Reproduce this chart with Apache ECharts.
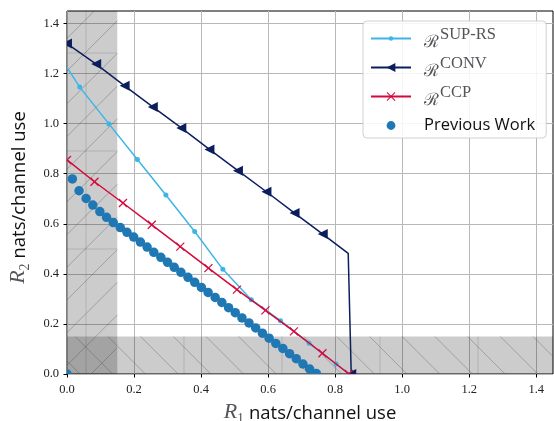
<!DOCTYPE html>
<html>
<head>
<meta charset="utf-8">
<script src="https://cdn.jsdelivr.net/npm/echarts@6/dist/echarts.min.js"></script>
<style>
  html, body { margin: 0; padding: 0; background: #fff; }
  #chart { width: 554px; height: 421px; }
</style>
</head>
<body>
<div id="chart"></div>
<script>
// ---- data ----
const tickValues = [0, 0.2, 0.4, 0.6, 0.8, 1.0, 1.2, 1.4];
const regionEdge = 0.15;   // shaded strips R1 < 0.15 and R2 < 0.15

const supX = [0, 0.038, 0.125, 0.21, 0.295, 0.381, 0.465, 0.55, 0.637, 0.722, 0.803, 0.843];
const supY = [1.225, 1.146, 0.999, 0.857, 0.715, 0.569, 0.418, 0.297, 0.213, 0.123, 0.040, 0];
const supMark = [0, 1, 1, 1, 1, 1, 1, 1, 1, 1, 1, 0];

const convX = [0, 0.087, 0.172, 0.256, 0.341, 0.425, 0.51, 0.595, 0.679, 0.763, 0.839, 0.848];
const convY = [1.32, 1.238, 1.151, 1.067, 0.983, 0.897, 0.812, 0.728, 0.643, 0.559, 0.482, 0];
const convMark = [1, 1, 1, 1, 1, 1, 1, 1, 1, 1, 0, 1];

const ccpX = [0, 0.082, 0.167, 0.253, 0.338, 0.422, 0.507, 0.592, 0.677, 0.762, 0.841];
const ccpY = [0.855, 0.768, 0.683, 0.596, 0.509, 0.423, 0.337, 0.254, 0.170, 0.083, 0];
const ccpMark = [1, 1, 1, 1, 1, 1, 1, 1, 1, 1, 1];

const prevX = [0, 0.016, 0.036, 0.057, 0.077, 0.098, 0.118, 0.138, 0.159, 0.179, 0.199,
  0.219, 0.239, 0.259, 0.280, 0.300, 0.320, 0.340, 0.361, 0.381, 0.401,
  0.421, 0.442, 0.462, 0.482, 0.502, 0.522, 0.543, 0.563, 0.583, 0.603,
  0.623, 0.644, 0.664, 0.684, 0.704, 0.724, 0.744];
const prevY = [0, 0.779, 0.732, 0.701, 0.675, 0.649, 0.626, 0.605, 0.585, 0.566, 0.547,
  0.527, 0.507, 0.486, 0.466, 0.446, 0.426, 0.406, 0.386, 0.366, 0.346,
  0.326, 0.306, 0.286, 0.265, 0.245, 0.224, 0.204, 0.184, 0.163, 0.143,
  0.122, 0.102, 0.081, 0.061, 0.040, 0.020, 0.002];

// ---- styling ----
const AX_MAX = 1.45;
const C_SUP = '#3db5e6', C_CONV = '#0b1f5e', C_CCP = '#d4093c', C_PREV = '#1f77b4';
// legend symbols, padded with zero-area corners so they keep a fixed box
const dotSmall = 'path://M0,0L0,0.01Z M10,10L10,9.99Z M5,2.5A2.5,2.5 0 1 1 5,7.5A2.5,2.5 0 1 1 5,2.5Z';
const dotBig = 'path://M0,0L0,0.01Z M10,10L10,9.99Z M5,1A4,4 0 1 1 5,9A4,4 0 1 1 5,1Z';
const xMark = 'path://M0.8,0L5,4.2L9.2,0L10,0.8L5.8,5L10,9.2L9.2,10L5,5.8L0.8,10L0,9.2L4.2,5L0,0.8Z';

function pairs(xs, ys, marks) {
  const out = [];
  xs.forEach(function (x, i) { if (!marks || marks[i]) out.push([x, ys[i]]); });
  return out;
}

// marker drawers for the clipped marker series
function markerRenderer(kind, color, size) {
  return function (params, api) {
    const p = api.coord([api.value(0), api.value(1)]);
    const h = size / 2;
    if (kind === 'dot') {
      return { type: 'circle', shape: { cx: p[0], cy: p[1], r: h }, style: { fill: color } };
    }
    if (kind === 'tri') {
      return { type: 'polygon', shape: { points: [[p[0] - h, p[1]], [p[0] + h, p[1] - h], [p[0] + h, p[1] + h]] }, style: { fill: color } };
    }
    return {
      type: 'group', children: [
        { type: 'line', shape: { x1: p[0] - h, y1: p[1] - h, x2: p[0] + h, y2: p[1] + h }, style: { stroke: color, lineWidth: 1.2 } },
        { type: 'line', shape: { x1: p[0] - h, y1: p[1] + h, x2: p[0] + h, y2: p[1] - h }, style: { stroke: color, lineWidth: 1.2 } }
      ]
    };
  };
}

function hatch(x0, y0, x1, y1, dir, phase, step, out) {
  const stroke = 'rgba(60,60,60,0.38)';
  if (dir === '/') {
    let c = phase + Math.ceil((x0 + y0 - phase) / step) * step;
    for (; c <= x1 + y1; c += step) {
      const xa = Math.max(x0, c - y1), xb = Math.min(x1, c - y0);
      if (xa < xb) out.push({ type: 'line', shape: { x1: xa, y1: c - xa, x2: xb, y2: c - xb }, style: { stroke: stroke, lineWidth: 0.8 } });
    }
  } else {
    let c = phase + Math.ceil((x0 - y1 - phase) / step) * step;
    for (; c <= x1 - y0; c += step) {
      const xa = Math.max(x0, c + y0), xb = Math.min(x1, c + y1);
      if (xa < xb) out.push({ type: 'line', shape: { x1: xa, y1: xa - c, x2: xb, y2: xb - c }, style: { stroke: stroke, lineWidth: 0.8 } });
    }
  }
}

function renderShade(params, api) {
  const o = api.coord([0, 0]);
  const tr = api.coord([AX_MAX, AX_MAX]);
  const e = api.coord([api.value(0), api.value(1)]);
  const fill = 'rgba(0,0,0,0.2)';
  const seam = 'rgba(0,0,0,0.13)';
  const kids = [
    { type: 'rect', shape: { x: o[0], y: tr[1], width: e[0] - o[0], height: o[1] - tr[1] }, style: { fill: fill } },
    { type: 'rect', shape: { x: o[0], y: e[1], width: tr[0] - o[0], height: o[1] - e[1] }, style: { fill: fill } }
  ];
  // tile seams of the hatch pattern
  for (let x = o[0] + 19; x < tr[0]; x += 98) {
    kids.push({ type: 'line', shape: { x1: x, y1: e[1], x2: x, y2: o[1] }, style: { stroke: seam, lineWidth: 1 } });
  }
  kids.push({ type: 'line', shape: { x1: o[0] + 19, y1: tr[1], x2: o[0] + 19, y2: e[1] }, style: { stroke: seam, lineWidth: 1 } });
  for (let y = o[1] - 125; y > tr[1]; y -= 98) {
    kids.push({ type: 'line', shape: { x1: o[0], y1: y, x2: e[0], y2: y }, style: { stroke: seam, lineWidth: 1 } });
  }
  hatch(o[0], tr[1], e[0], o[1], '/', 105.3, 32.7, kids);
  hatch(o[0], e[1], tr[0], o[1], '\\', 33, 32.7, kids);
  return { type: 'group', children: kids };
}

const legendNames = {
  'SUP-RS': '{r|ℛ}{sup|SUP-RS}',
  'CONV': '{r|ℛ}{sup|CONV}',
  'CCP': '{r|ℛ}{sup|CCP}',
  'Previous Work': '{t|Previous Work}{sup| }'
};

function nameRich() {
  return {
    i: { fontFamily: 'Liberation Serif', fontStyle: 'italic', fontSize: 22, padding: [0, 0, 3, 0], verticalAlign: 'bottom' },
    s: { fontFamily: 'Liberation Serif', fontSize: 14, verticalAlign: 'bottom' },
    t: { fontFamily: 'Open Sans', fontSize: 18.5, color: '#111', padding: [0, 0, 3, 0], verticalAlign: 'bottom' }
  };
}

const chart = echarts.init(document.getElementById('chart'), null, { renderer: 'canvas' });
const option = {
  animation: false,
  backgroundColor: '#fff',
  grid: {
    left: 67, right: 1, top: 11, bottom: 47,
    containLabel: false, outerBoundsMode: 'none',
    show: true, borderColor: '#000', borderWidth: 1, backgroundColor: 'transparent'
  },
  legend: {
    orient: 'vertical',
    left: 363, top: 21,
    padding: [5, 6, 4, 7],
    itemWidth: 40, itemHeight: 11, itemGap: 4,
    backgroundColor: 'rgba(255,255,255,0.85)',
    borderColor: '#d0d0d0', borderWidth: 1, borderRadius: 4,
    data: ['SUP-RS', 'CONV', 'CCP', { name: 'Previous Work', icon: dotBig }],
    formatter: function (n) { return legendNames[n]; },
    textStyle: {
      rich: {
        r: { fontFamily: 'DejaVu Serif', fontSize: 17, padding: [0, 0, 0, 8], verticalAlign: 'bottom', lineHeight: 22 },
        sup: { fontFamily: 'Liberation Serif', fontSize: 16.5, padding: [0, 0, 8, 1], verticalAlign: 'bottom' },
        t: { fontFamily: 'Open Sans', fontSize: 16.5, color: '#111', padding: [0, 0, 0, 8], verticalAlign: 'middle' }
      }
    }
  },
  xAxis: {
    type: 'value', min: 0, max: AX_MAX,
    name: '{i|R}{s|1}{t| nats/channel use}',
    nameLocation: 'middle', nameGap: 26,
    nameTextStyle: { rich: nameRich() },
    axisLine: { show: false },
    axisTick: { show: true, inside: false, length: 3.5, lineStyle: { color: '#000' }, customValues: tickValues },
    axisLabel: { customValues: tickValues, formatter: function (v) { return v.toFixed(1); }, fontFamily: 'Liberation Serif', fontSize: 12.5, color: '#222', margin: 9 },
    splitLine: { show: true, lineStyle: { color: '#b8b8b8', width: 1 } }
  },
  yAxis: {
    type: 'value', min: 0, max: AX_MAX,
    name: '{i|R}{s|2}{t| nats/channel use}',
    nameLocation: 'middle', nameGap: 29, nameRotate: 90,
    nameTextStyle: { rich: nameRich(), padding: [0, 10, 0, 0] },
    axisLine: { show: false },
    axisTick: { show: true, inside: false, length: 3.5, lineStyle: { color: '#000' }, customValues: tickValues },
    axisLabel: { customValues: tickValues, formatter: function (v) { return v.toFixed(1); }, fontFamily: 'Liberation Serif', fontSize: 12.5, color: '#222', margin: 8 },
    splitLine: { show: true, lineStyle: { color: '#b8b8b8', width: 1 } }
  },
  series: [
    {
      type: 'custom', name: 'shade', z: 1, silent: true, clip: true,
      data: [[regionEdge, regionEdge]],
      renderItem: renderShade
    },
    {
      name: 'SUP-RS', type: 'line', z: 3, showSymbol: false,
      data: supX.map(function (x, i) { return [x, supY[i]]; }),
      symbol: dotSmall, symbolSize: 10,
      lineStyle: { color: C_SUP, width: 1.5 }, itemStyle: { color: C_SUP }
    },
    {
      type: 'custom', name: 'SUP-RS marks', z: 3, silent: true, clip: true,
      data: pairs(supX, supY, supMark),
      renderItem: markerRenderer('dot', C_SUP, 5)
    },
    {
      name: 'CONV', type: 'line', z: 4, showSymbol: false,
      data: convX.map(function (x, i) { return [x, convY[i]]; }),
      symbol: 'triangle', symbolRotate: 90, symbolSize: 10,
      lineStyle: { color: C_CONV, width: 1.5 }, itemStyle: { color: C_CONV }
    },
    {
      type: 'custom', name: 'CONV marks', z: 4, silent: true, clip: true,
      data: pairs(convX, convY, convMark),
      renderItem: markerRenderer('tri', C_CONV, 10)
    },
    {
      name: 'CCP', type: 'line', z: 5, showSymbol: false,
      data: ccpX.map(function (x, i) { return [x, ccpY[i]]; }),
      symbol: xMark, symbolSize: 9,
      lineStyle: { color: C_CCP, width: 1.5 }, itemStyle: { color: C_CCP }
    },
    {
      type: 'custom', name: 'CCP marks', z: 5, silent: true, clip: true,
      data: pairs(ccpX, ccpY, ccpMark),
      renderItem: markerRenderer('x', C_CCP, 8)
    },
    {
      name: 'Previous Work', type: 'custom', z: 6, silent: true, clip: true,
      data: pairs(prevX, prevY),
      itemStyle: { color: C_PREV },
      renderItem: markerRenderer('dot', C_PREV, 9.5)
    }
  ]
};
chart.setOption(option);
</script>
</body>
</html>
